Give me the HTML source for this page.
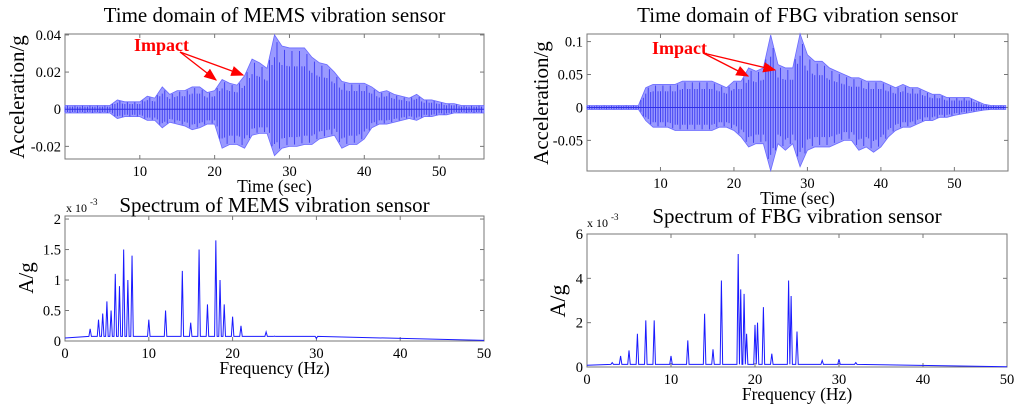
<!DOCTYPE html>
<html><head><meta charset="utf-8"><style>
body{margin:0;background:#fff;width:1024px;height:414px;overflow:hidden}
svg{font-family:"Liberation Serif",serif}
</style></head><body>
<svg id="s" width="1024" height="414">
<defs><marker id="ah" markerWidth="10" markerHeight="8" refX="9" refY="4" orient="auto"><path d="M0,0 L10,4 L0,8 z" fill="#f00"/></marker></defs>
</svg>
<script>
// MEMS time-domain envelope (per second)
const memsT=[0,1,2,3,4,5,6,7,8,9,10,11,12,13,14,15,16,17,18,19,20,21,22,23,24,25,26,27,28,29,30,31,32,33,34,35,36,37,38,39,40,41,42,43,44,45,46,47,48,49,50,51,52,53,54,55,56];
const memsUp=[0.002,0.002,0.002,0.002,0.002,0.002,0.002,0.005,0.004,0.004,0.004,0.007,0.006,0.012,0.008,0.010,0.010,0.012,0.012,0.009,0.010,0.016,0.014,0.013,0.018,0.027,0.025,0.022,0.040,0.034,0.033,0.033,0.033,0.028,0.025,0.024,0.020,0.015,0.014,0.014,0.014,0.012,0.009,0.010,0.008,0.007,0.006,0.008,0.005,0.005,0.004,0.003,0.003,0.002,0.002,0.002,0.002];
const memsLo=[-0.002,-0.002,-0.002,-0.002,-0.002,-0.002,-0.002,-0.005,-0.004,-0.004,-0.004,-0.006,-0.006,-0.010,-0.007,-0.008,-0.009,-0.011,-0.010,-0.008,-0.008,-0.021,-0.019,-0.019,-0.021,-0.014,-0.013,-0.013,-0.025,-0.021,-0.020,-0.020,-0.019,-0.019,-0.016,-0.015,-0.014,-0.021,-0.019,-0.019,-0.016,-0.010,-0.008,-0.008,-0.007,-0.006,-0.005,-0.006,-0.004,-0.004,-0.003,-0.003,-0.002,-0.002,-0.002,-0.002,-0.002];
// FBG time-domain envelope
const fbgT=[0,1,2,3,4,5,6,7,8,9,10,11,12,13,14,15,16,17,18,19,20,21,22,23,24,25,26,27,28,29,30,31,32,33,34,35,36,37,38,39,40,41,42,43,44,45,46,47,48,49,50,51,52,53,54,55,56,57];
const fbgUp=[0.003,0.003,0.003,0.003,0.003,0.003,0.003,0.003,0.030,0.035,0.035,0.035,0.035,0.040,0.040,0.040,0.040,0.040,0.035,0.030,0.040,0.040,0.060,0.055,0.060,0.110,0.065,0.060,0.060,0.112,0.080,0.070,0.070,0.060,0.055,0.050,0.045,0.045,0.040,0.040,0.040,0.035,0.030,0.035,0.030,0.030,0.025,0.020,0.020,0.015,0.015,0.015,0.015,0.010,0.005,0.003,0.003,0.003];
const fbgLo=[-0.003,-0.003,-0.003,-0.003,-0.003,-0.003,-0.003,-0.003,-0.020,-0.030,-0.030,-0.030,-0.035,-0.035,-0.035,-0.035,-0.035,-0.035,-0.030,-0.030,-0.035,-0.045,-0.060,-0.055,-0.055,-0.096,-0.055,-0.065,-0.055,-0.090,-0.065,-0.060,-0.060,-0.060,-0.055,-0.050,-0.050,-0.065,-0.060,-0.068,-0.060,-0.045,-0.035,-0.030,-0.030,-0.025,-0.020,-0.020,-0.015,-0.015,-0.012,-0.010,-0.008,-0.006,-0.004,-0.003,-0.003,-0.003];
// Spectra peaks (Hz, x1e-3)
const memsF=[3,4,4.5,5,5.5,6,6.5,7,7.5,8,10,12,14,15,16,17,18,18.5,19,20,21,24,25,30];
const memsA=[0.2,0.35,0.45,0.65,0.5,1.1,0.9,1.5,1.0,1.4,0.35,0.5,1.15,0.3,1.5,0.6,1.65,1.0,0.6,0.4,0.25,0.15,0.08,0.04];
const fbgF=[3,4,5,6,7,8,10,12,14,15,16,18,18.3,18.7,19,20,20.3,21,22,24,24.3,25,28,30,32];
const fbgA=[0.2,0.5,0.75,1.5,2.1,2.1,0.5,1.2,2.4,0.8,3.9,5.1,3.5,3.3,1.5,1.9,2.0,2.7,0.6,3.9,3.2,1.6,0.3,0.35,0.2];
const memsTicksY=[-0.02,0,0.02,0.04], fbgTicksY=[-0.05,0,0.05,0.1];

const S=document.getElementById('s'),NS='http://www.w3.org/2000/svg';
function mk(t,a,txt){const e=document.createElementNS(NS,t);for(const k in a)e.setAttribute(k,a[k]);if(txt!==undefined)e.textContent=txt;S.appendChild(e);return e;}
function axes(L,R,T,B,x0,x1,y0,y1,xt,yt,ylab,xlab,title,titleY,name,fmt){
 const sx=v=>L+(v-x0)/(x1-x0)*(R-L), sy=v=>B-(v-y0)/(y1-y0)*(B-T);
 let e=mk('rect',{x:L,y:T,width:R-L,height:B-T,fill:'#fff',stroke:'#777','stroke-width':1});
 
 
 xt.forEach(v=>{mk('line',{x1:sx(v),x2:sx(v),y1:B,y2:B-4,stroke:'#777'});mk('line',{x1:sx(v),x2:sx(v),y1:T,y2:T+4,stroke:'#777'});
  e=mk('text',{x:sx(v),y:B+17,'font-size':14.5,'text-anchor':'middle'},v);
  
  });
 yt.forEach(v=>{mk('line',{x1:L,x2:L+4,y1:sy(v),y2:sy(v),stroke:'#777'});mk('line',{x1:R,x2:R-4,y1:sy(v),y2:sy(v),stroke:'#777'});
  e=mk('text',{x:L-4,y:sy(v)+5,'font-size':14.5,'text-anchor':'end'},fmt(v));
  
  });
 e=mk('text',{x:(L+R)/2,y:B+33,'font-size':17.5,'text-anchor':'middle'},xlab);
 
 
 e=mk('text',{x:(L+R)/2,y:titleY,'font-size':21,'text-anchor':'middle'},title);
 
 
 return {sx,sy};
}
function ylabel(x,y,t,name,fs){const e=mk('text',{x:x,y:y,'font-size':fs,'text-anchor':'middle',transform:`rotate(-90 ${x} ${y})`},t);
 
 }
function env(ax,T,U,Lo,name){
 let p=T.map((t,i)=>ax.sx(t)+','+ax.sy(U[i])).join(' ')+' '+T.map((t,i)=>ax.sx(t)+','+ax.sy(Lo[i])).reverse().join(' ');
 let e=mk('polygon',{points:p,fill:'#9a9aff',stroke:'#6a6aff','stroke-width':0.8});
 
 
 T.forEach((t,i)=>{if(i<T.length-1){for(let k=0;k<3;k++){const f=k/3,tt=t+f,u=U[i]+(U[i+1]-U[i])*f,l=Lo[i]+(Lo[i+1]-Lo[i])*f;
  mk('line',{x1:ax.sx(tt),x2:ax.sx(tt),y1:ax.sy(u*(k==1?0.95:0.7)),y2:ax.sy(l*(k==2?0.95:0.75)),stroke:'#3a3af0','stroke-width':0.9});}}});
 mk('line',{x1:ax.sx(T[0]),x2:ax.sx(T[T.length-1]),y1:ax.sy(0),y2:ax.sy(0),stroke:'#3030e8','stroke-width':1});
}
function spec(ax,F,A,base,name){
 let pts=[[0,base]];F.forEach((f,i)=>{pts.push([f-0.15,base*1.5],[f,A[i]],[f+0.15,base*1.5]);});pts.push([50,0.01]);
 let e=mk('polyline',{points:pts.map(p=>ax.sx(p[0])+','+ax.sy(p[1])).join(' '),fill:'none',stroke:'#1a1aff','stroke-width':1});
 
 
}
const a1=axes(65,484,34,159,0,56,-0.0268,0.0405,[10,20,30,40,50],memsTicksY,'','Time (sec)','Time domain of MEMS vibration sensor',22,'mems-time',v=>v===0?'0':v.toFixed(2));
ylabel(24,97,'Acceleration/g','mems-time-y-axis-title',21);
env(a1,memsT,memsUp,memsLo,'mems-time-signal');
const a2=axes(65,484,216,341,0,50,0,2.05,[0,10,20,30,40,50],[0,0.5,1,1.5,2],'','Frequency (Hz)','Spectrum of MEMS vibration sensor',212,'mems-spectrum',v=>String(v));
ylabel(33,278,'A/g','mems-spectrum-y-axis-title',21);
spec(a2,memsF,memsA,0.05,'mems-spectrum-line');
mk('text',{x:66,y:212,'font-size':12},'x 10');
mk('text',{x:90,y:205,'font-size':9},'-3');
const a3=axes(587,1008,34,171,0,57.3,-0.0965,0.1115,[10,20,30,40,50],fbgTicksY,'','Time (sec)','Time domain of FBG vibration sensor',22,'fbg-time',v=>v===0?'0':String(v));
ylabel(548,103,'Acceleration/g','fbg-time-y-axis-title',21);
env(a3,fbgT,fbgUp,fbgLo,'fbg-time-signal');
const a4=axes(587,1007,234,367,0,50,0,6,[0,10,20,30,40,50],[0,2,4,6],'','Frequency (Hz)','Spectrum of FBG vibration sensor',223,'fbg-spectrum',v=>String(v));
ylabel(565,301,'A/g','fbg-spectrum-y-axis-title',22);
spec(a4,fbgF,fbgA,0.08,'fbg-spectrum-line');
mk('text',{x:587,y:227,'font-size':12},'x 10');
mk('text',{x:611,y:220,'font-size':9},'-3');
// annotations
let t=mk('text',{x:134,y:51,'font-size':18,'font-weight':'bold',fill:'#f00'},'Impact');


mk('line',{x1:180,y1:52,x2:216,y2:80,stroke:'#f00','stroke-width':1.3,'marker-end':'url(#ah)'});
mk('line',{x1:180,y1:52,x2:243,y2:75,stroke:'#f00','stroke-width':1.3,'marker-end':'url(#ah)'});
t=mk('text',{x:652,y:54,'font-size':18,'font-weight':'bold',fill:'#f00'},'Impact');


mk('line',{x1:703,y1:53,x2:748,y2:76,stroke:'#f00','stroke-width':1.3,'marker-end':'url(#ah)'});
mk('line',{x1:703,y1:53,x2:775,y2:70,stroke:'#f00','stroke-width':1.3,'marker-end':'url(#ah)'});
</script>
</body></html>
